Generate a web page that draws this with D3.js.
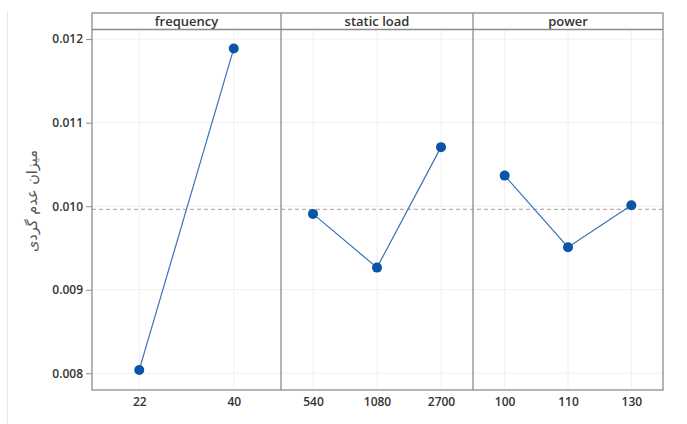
<!DOCTYPE html>
<html><head><meta charset="utf-8">
<script src="https://cdn.jsdelivr.net/npm/d3@7"></script>
<style>body{margin:0;background:#fff}svg{display:block}</style>
</head><body><svg id="c" width="687" height="424"></svg>
<script>
const factors = ["frequency", "static load", "power"];
const freqLevels = ["22", "40"];
const freqMeans = [0.00804, 0.011887];
const loadLevels = ["540", "1080", "2700"];
const loadMeans = [0.009908, 0.009265, 0.010707];
const powerLevels = ["100", "110", "130"];
const powerMeans = [0.010366, 0.009509, 0.010012];
const grandMean = 0.009963;
const yTicks = [0.008, 0.009, 0.010, 0.011, 0.012];
const yLabel = "میزان عدم گردی";

(function () {
const panels = [
  {name: factors[0], levels: freqLevels, values: freqMeans},
  {name: factors[1], levels: loadLevels, values: loadMeans},
  {name: factors[2], levels: powerLevels, values: powerMeans}
];

const svg = d3.select("#c");
const pL = 92, pR = 663, pT = 13, stripH = 16.5, pB = 390;
const bounds = [92, 281, 473, 663];
const y = d3.scaleLinear().domain([0.0078, 0.012115]).range([pB, pT + stripH]);

svg.append("line").attr("x1", 7.5).attr("x2", 7.5).attr("y1", 12).attr("y2", 424)
  .attr("stroke", "#e6e6e6").attr("stroke-width", 1);

svg.append("g").selectAll("line").data(yTicks).join("line")
  .attr("x1", pL).attr("x2", pR)
  .attr("y1", d => y(d)).attr("y2", d => y(d))
  .attr("stroke", "#f0f0f0").attr("stroke-width", 1);

panels.forEach((p, i) => {
  const x = d3.scalePoint().domain(p.levels).range([bounds[i], bounds[i + 1]]).padding(0.5);
  p.x = x;
  svg.append("g").selectAll("line").data(p.levels).join("line")
    .attr("x1", d => x(d)).attr("x2", d => x(d))
    .attr("y1", pT + stripH).attr("y2", pB)
    .attr("stroke", "#f0f0f0").attr("stroke-width", 1);
});

svg.append("line").attr("x1", pL).attr("x2", pR)
  .attr("y1", y(grandMean)).attr("y2", y(grandMean))
  .attr("stroke", "#a0a0a0").attr("stroke-width", 1).attr("stroke-dasharray", "4,3");

panels.forEach((p, i) => {
  const x = p.x;
  const g = svg.append("g");
  const pts = p.levels.map((l, k) => [x(l), y(p.values[k])]);
  g.append("path").attr("d", d3.line()(pts)).attr("fill", "none")
    .attr("stroke", "#3a72b4").attr("stroke-width", 1.2);
  g.selectAll("circle").data(pts).join("circle")
    .attr("cx", d => d[0]).attr("cy", d => d[1]).attr("r", 5)
    .attr("fill", "#0a55a8");
  const ax = svg.append("g").attr("transform", `translate(0,${pB})`)
    .call(d3.axisBottom(x).tickSize(0).tickPadding(7));
  ax.select(".domain").remove();
  ax.selectAll("text").attr("font-family", "'Open Sans', sans-serif").attr("font-size", 12)
    .attr("font-weight", 600).attr("fill", "#333");
  svg.append("text").attr("x", (bounds[i] + bounds[i + 1]) / 2).attr("y", pT + 12.5)
    .attr("text-anchor", "middle").attr("font-family", "'Open Sans', sans-serif")
    .attr("font-size", 13).attr("font-weight", 600).attr("fill", "#333").text(p.name);
});

svg.append("rect").attr("x", pL).attr("y", pT).attr("width", pR - pL).attr("height", pB - pT)
  .attr("fill", "none").attr("stroke", "#8c8c8c").attr("stroke-width", 1.3);
svg.append("line").attr("x1", pL).attr("x2", pR).attr("y1", pT + stripH).attr("y2", pT + stripH)
  .attr("stroke", "#8c8c8c").attr("stroke-width", 1.3);
[bounds[1], bounds[2]].forEach(bx => {
  svg.append("line").attr("x1", bx).attr("x2", bx).attr("y1", pT).attr("y2", pB)
    .attr("stroke", "#8c8c8c").attr("stroke-width", 1.3);
});

const yax = svg.append("g").attr("transform", `translate(${pL},0)`)
  .call(d3.axisLeft(y).tickValues(yTicks).tickFormat(d3.format(".3f")).tickSize(6).tickPadding(3));
yax.select(".domain").remove();
yax.selectAll("line").attr("stroke", "#8c8c8c");
yax.selectAll("text").attr("font-family", "'Open Sans', sans-serif").attr("font-size", 12)
  .attr("font-weight", 600).attr("fill", "#333");

svg.append("text").attr("transform", `translate(37,201) rotate(-90)`)
  .attr("text-anchor", "middle").attr("font-family", "'DejaVu Sans', 'Noto Sans', sans-serif")
  .attr("font-size", 14.5).attr("fill", "#555").text(yLabel);
})();
</script></body></html>
